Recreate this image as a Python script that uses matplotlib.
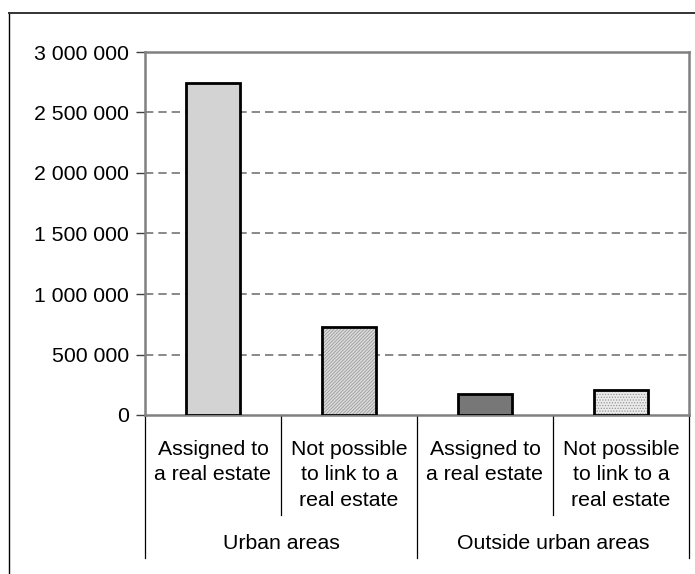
import matplotlib
matplotlib.use("Agg")
import matplotlib.pyplot as plt
from matplotlib.lines import Line2D

plt.rcParams['font.family'] = ['Liberation Sans', 'DejaVu Sans']
plt.rcParams['lines.scale_dashes'] = False
plt.rcParams['hatch.linewidth'] = 0.6

# Data
categories = ["Assigned to\na real estate", "Not possible\nto link to a\nreal estate",
              "Assigned to\na real estate", "Not possible\nto link to a\nreal estate"]
groups = ["Urban areas", "Outside urban areas"]
values = [2745000, 727000, 174000, 207000]
yticks = [0, 500000, 1000000, 1500000, 2000000, 2500000, 3000000]

faces = ["#d3d3d3", "#dcdcdc", "#777777", "#ececec"]
hatches = [None, "//////////", None, "......"]
hatch_colors = [None, "#9a9a9a", None, "#959595"]

W, H = 695, 574
FS = 15.3
fig = plt.figure(figsize=(W / 100, H / 100), dpi=100)
ax = fig.add_axes([145 / W, (H - 415) / H, (689 - 145) / W, (415 - 52) / H])

x = list(range(len(values)))
bw = 0.40
for i, v in enumerate(values):
    if hatches[i]:
        ax.bar(x[i], v, width=bw, color=faces[i], edgecolor=hatch_colors[i],
               hatch=hatches[i], linewidth=0, zorder=3)
        ax.bar(x[i], v, width=bw, facecolor="none", edgecolor="black",
               linewidth=2.0, zorder=4)
    else:
        ax.bar(x[i], v, width=bw, color=faces[i], edgecolor="black",
               linewidth=2.0, zorder=3)

ax.set_xlim(-0.5, len(values) - 0.5)
ax.set_ylim(0, 3000000)
ax.set_yticks(yticks)
ax.set_yticklabels([f"{t:,}".replace(",", " ") for t in yticks], fontsize=FS)
ax.tick_params(axis="y", length=6.5, width=1, color="#404040", pad=5)
ax.set_xticks([])

# dashed gridlines
for t in yticks[1:-1]:
    ax.axhline(t, color="#808080", lw=1.3, dashes=(6, 3.6), zorder=1)

for s in ["top", "right", "left", "bottom"]:
    ax.spines[s].set_color("#808080")
    ax.spines[s].set_linewidth(1.8)

# category labels and separators below the axis
xt = ax.get_xaxis_transform()
for i, lab in enumerate(categories):
    ax.text(x[i], -0.0685, lab, transform=xt, ha="center", va="top",
            fontsize=FS, linespacing=1.44)
for j, g in enumerate(groups):
    ax.text(2 * j + 0.5, -0.355, g, transform=xt, ha="center", va="center", fontsize=FS)

for xs in [-0.5, 1.5, 3.5]:
    ax.add_line(Line2D([xs, xs], [0, -(558 - 415) / 363], transform=xt,
                       color="black", lw=0.9, clip_on=False))
for xs in [0.5, 2.5]:
    ax.add_line(Line2D([xs, xs], [0, -(515 - 415) / 363], transform=xt,
                       color="black", lw=0.9, clip_on=False))

# outer frame around the chart
fig.add_artist(Line2D([9 / W, 9 / W], [0, (H - 13) / H], transform=fig.transFigure,
                      color="black", lw=1.0))
fig.add_artist(Line2D([9 / W, 1.0], [(H - 13) / H, (H - 13) / H], transform=fig.transFigure,
                      color="#333333", lw=1.4))

fig.savefig("out.png", dpi=100)
